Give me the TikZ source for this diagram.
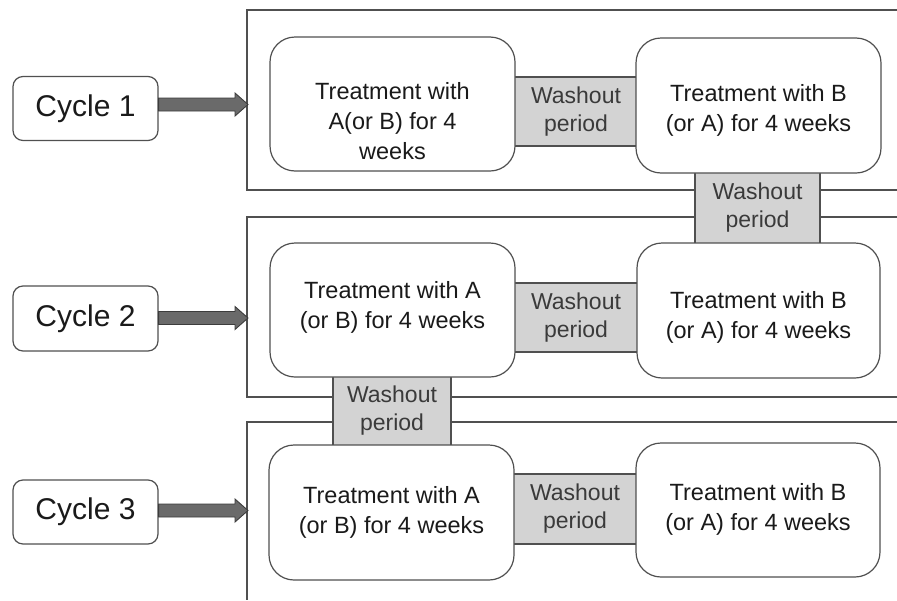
\documentclass[tikz,border=0pt]{standalone}
\usepackage{fontspec}
\setmainfont{Liberation Sans}
\usetikzlibrary{calc}
\definecolor{linegray}{HTML}{505050}
\definecolor{washfill}{HTML}{D3D3D3}
\definecolor{arrowfill}{HTML}{6A6A6A}
\definecolor{arrowdraw}{HTML}{3C3C3C}
\definecolor{txtdark}{HTML}{1A1A1A}
\definecolor{txtwash}{HTML}{3A3A3A}
\newcommand\fatarrow[2]{%
  \filldraw[fill=arrowfill,draw=arrowdraw,line width=0.9pt,line join=miter]
    let \p1=(#1), \p2=(#2) in
    (\x1,\y2-6.5) -- (\x2-13,\y2-6.5) -- (\x2-13,\y2-11.5) -- (\x2,\y2)
    -- (\x2-13,\y2+11.5) -- (\x2-13,\y2+6.5) -- (\x1,\y2+6.5) -- cycle;}
\begin{document}
\begin{tikzpicture}[x=1pt,y=-1pt,
  frameline/.style={draw=linegray,line width=1.3pt},
  treatbox/.style={draw=linegray,line width=1.2pt,fill=white,rounded corners=25pt,
    minimum width=245pt,minimum height=134pt,inner sep=0pt},
  treattext/.style={align=center,inner sep=0pt,text=txtdark,
    font=\fontsize{23.5}{30}\selectfont},
  washbox/.style={draw=linegray,line width=1.2pt,fill=washfill,
    minimum width=124pt,minimum height=69pt,align=center,inner sep=0pt,
    text=txtwash,font=\fontsize{23}{28}\selectfont},
  cyclebox/.style={draw=linegray,line width=1.2pt,fill=white,rounded corners=10pt,
    minimum width=145pt,minimum height=64pt,inner sep=0pt,
    text=txtdark,font=\fontsize{30}{34}\selectfont}]
\useasboundingbox (0,0) rectangle (897,600);
% frames
\draw[frameline] (897,10) -- (247,10) -- (247,190) -- (897,190);
\draw[frameline] (897,217) -- (247,217) -- (247,397) -- (897,397);
\draw[frameline] (897,422) -- (247,422) -- (247,600);
% washout boxes
\node[washbox] (w1) at (576,111.5) {Washout\\period};
\node[washbox,minimum width=125pt,minimum height=72pt] (w12) at (757.5,208) {Washout\\period};
\node[washbox] (w2) at (576,317.5) {Washout\\period};
\node[washbox,minimum width=118pt,minimum height=70pt] (w23) at (392,411) {Washout\\period};
\node[washbox,minimum height=70pt] (w3) at (575,509) {Washout\\period};
% treatment boxes
\node[treatbox] (t11) at (392.5,104) {};
\node[treatbox,minimum height=135pt] (t12) at (758.5,105.5) {};
\node[treatbox] (t21) at (392.5,310) {};
\node[treatbox,minimum width=243pt,minimum height=135pt] (t22) at (758.5,310.5) {};
\node[treatbox,minimum height=135pt] (t31) at (391.5,512.5) {};
\node[treatbox,minimum width=244pt] (t32) at (758,510) {};
\node[treattext] (t11x) at ($(t11.center)+(0,17)$) {Treatment with\\A(or B) for 4\\weeks};
\node[treattext] (t12x) at ($(t12.center)+(0,4.5)$) {Treatment with B\\(or A) for 4 weeks};
\node[treattext] (t21x) at ($(t21.center)+(0,-3)$) {Treatment with A\\(or B) for 4 weeks};
\node[treattext] (t22x) at ($(t22.center)+(0,7)$) {Treatment with B\\(or A) for 4 weeks};
\node[treattext] (t31x) at ($(t31.center)+(0,-0.5)$) {Treatment with A\\(or B) for 4 weeks};
\node[treattext] (t32x) at ($(t32.center)+(0,-1)$) {Treatment with B\\(or A) for 4 weeks};
% cycle boxes
\node[cyclebox] (c1) at (85.5,108.5) {Cycle 1};
\node[cyclebox,minimum height=65pt] (c2) at (85.5,318.5) {Cycle 2};
\node[cyclebox] (c3) at (85.5,512) {Cycle 3};
% arrow targets on the frames
\coordinate (a1) at (248,104.5);
\coordinate (a2) at (248,318);
\coordinate (a3) at (248,510.5);
\fatarrow{c1.east}{a1}
\fatarrow{c2.east}{a2}
\fatarrow{c3.east}{a3}
\end{tikzpicture}
\end{document}
